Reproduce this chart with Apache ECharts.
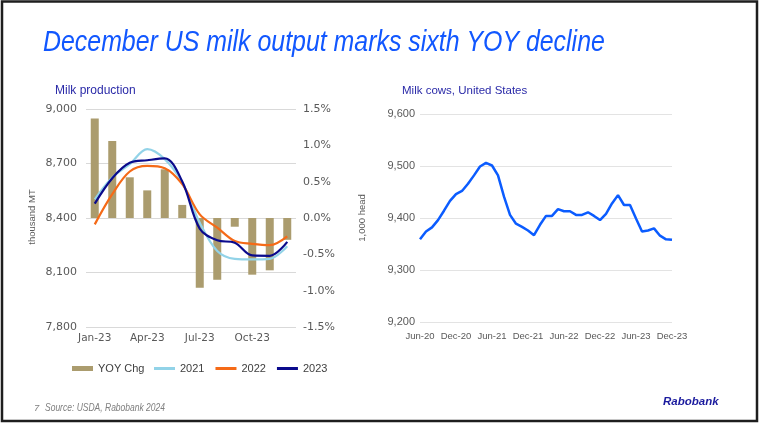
<!DOCTYPE html>
<html>
<head>
<meta charset="utf-8">
<script src="https://cdn.jsdelivr.net/npm/echarts@6/dist/echarts.min.js"></script>
<style>
html,body{margin:0;padding:0;background:#fff;}
#chart{width:761px;height:425px;}
</style>
</head>
<body>
<div id="chart"></div>
<script>
// ---- Data ----
const prodMonths = ['Jan-23','Feb-23','Mar-23','Apr-23','May-23','Jun-23','Jul-23','Aug-23','Sep-23','Oct-23','Nov-23','Dec-23'];
const yoyChg = [1.37, 1.06, 0.56, 0.38, 0.67, 0.18, -0.96, -0.85, -0.12, -0.78, -0.72, -0.30];
const prod2021 = [8503, 8623, 8696, 8779, 8724, 8595, 8374, 8218, 8175, 8172, 8175, 8245];
const prod2022 = [8365, 8531, 8656, 8687, 8674, 8586, 8420, 8347, 8273, 8258, 8251, 8299];
const prod2023 = [8479, 8619, 8704, 8718, 8728, 8601, 8341, 8277, 8264, 8194, 8192, 8269];

const cowMonths = ['Jun-20','Jul-20','Aug-20','Sep-20','Oct-20','Nov-20','Dec-20',
  'Jan-21','Feb-21','Mar-21','Apr-21','May-21','Jun-21','Jul-21','Aug-21','Sep-21','Oct-21','Nov-21','Dec-21',
  'Jan-22','Feb-22','Mar-22','Apr-22','May-22','Jun-22','Jul-22','Aug-22','Sep-22','Oct-22','Nov-22','Dec-22',
  'Jan-23','Feb-23','Mar-23','Apr-23','May-23','Jun-23','Jul-23','Aug-23','Sep-23','Oct-23','Nov-23','Dec-23'];
const milkCows = [9359, 9374, 9382, 9396, 9414, 9433, 9446, 9452, 9466, 9482, 9499, 9506, 9501, 9482, 9441, 9406, 9389, 9383, 9376, 9367, 9387, 9404, 9404, 9417, 9413, 9413, 9406, 9406, 9411, 9404, 9396, 9408, 9428, 9444, 9425, 9425, 9399, 9374, 9376, 9380, 9366, 9359, 9358];

const titleText = 'December US milk output marks sixth YOY decline';
const leftTitle = 'Milk production';
const rightTitle = 'Milk cows, United States';
const sourceText = 'Source: USDA, Rabobank 2024';

// ---- Chart ----
const chart = echarts.init(document.getElementById('chart'), null, {renderer: 'canvas'});
const gray = '#595959';
const leftFont = 'DejaVu Sans';
const arial = 'Liberation Sans, Arial, sans-serif';
const legendText = {fontFamily: arial, fontSize: 11, color: '#404040'};

const option = {
  backgroundColor: '#ffffff',
  animation: false,
  grid: [
    {left: 86, top: 109, width: 210, height: 218, containLabel: false},
    {left: 420, top: 114, width: 252, height: 208, containLabel: false}
  ],
  legend: [
    {
      left: 67, top: 358, itemWidth: 21, itemHeight: 5, itemGap: 11,
      textStyle: legendText,
      data: [{name: 'YOY Chg', icon: 'rect'}]
    },
    {
      left: 149, top: 358, itemWidth: 21, itemHeight: 3, itemGap: 11,
      textStyle: legendText,
      data: [{name: '2021', icon: 'rect'}, {name: '2022', icon: 'rect'}, {name: '2023', icon: 'rect'}]
    }
  ],
  xAxis: [
    {
      type: 'category', gridIndex: 0, data: prodMonths, boundaryGap: true,
      axisLine: {show: false}, axisTick: {show: false},
      axisLabel: {interval: 2, color: gray, fontFamily: leftFont, fontSize: 10.5, margin: 6}
    },
    {
      type: 'category', gridIndex: 1, data: cowMonths, boundaryGap: false,
      axisLine: {show: false}, axisTick: {show: false},
      axisLabel: {interval: 5, color: gray, fontFamily: arial, fontSize: 9.5, margin: 9, showMaxLabel: true}
    }
  ],
  yAxis: [
    {
      type: 'value', gridIndex: 0, min: 7800, max: 9000, interval: 300,
      axisLine: {show: false}, axisTick: {show: false},
      splitLine: {lineStyle: {color: '#d9d9d9', width: 1}},
      axisLabel: {color: gray, fontFamily: leftFont, fontSize: 11, margin: 9,
        formatter: v => v.toLocaleString('en-US')}
    },
    {
      type: 'value', gridIndex: 0, position: 'right', min: -1.5, max: 1.5, interval: 0.5,
      axisLine: {show: false}, axisTick: {show: false}, splitLine: {show: false},
      axisLabel: {color: gray, fontFamily: leftFont, fontSize: 11, margin: 7,
        formatter: v => (Math.abs(v) < 1e-9 ? 0 : v).toFixed(1) + '%'}
    },
    {
      type: 'value', gridIndex: 1, min: 9200, max: 9600, interval: 100,
      axisLine: {show: false}, axisTick: {show: false},
      splitLine: {lineStyle: {color: '#e3e3e3', width: 1}},
      axisLabel: {color: gray, fontFamily: arial, fontSize: 11, margin: 5,
        formatter: v => v.toLocaleString('en-US')}
    }
  ],
  series: [
    {
      name: 'YOY Chg', type: 'bar', xAxisIndex: 0, yAxisIndex: 1, data: yoyChg,
      barWidth: 8, itemStyle: {color: '#ab9c6e'}
    },
    {
      name: '2021', type: 'line', xAxisIndex: 0, yAxisIndex: 0, data: prod2021,
      smooth: 0.35, symbol: 'none', lineStyle: {color: '#92d3e8', width: 2.2}, itemStyle: {color: '#92d3e8'}
    },
    {
      name: '2022', type: 'line', xAxisIndex: 0, yAxisIndex: 0, data: prod2022,
      smooth: 0.35, symbol: 'none', lineStyle: {color: '#f56a17', width: 2.2}, itemStyle: {color: '#f56a17'}
    },
    {
      name: '2023', type: 'line', xAxisIndex: 0, yAxisIndex: 0, data: prod2023,
      smooth: 0.35, symbol: 'none', lineStyle: {color: '#0a0a8c', width: 2.2}, itemStyle: {color: '#0a0a8c'}
    },
    {
      name: 'Milk cows', type: 'line', xAxisIndex: 1, yAxisIndex: 2, data: milkCows,
      symbol: 'none', lineStyle: {color: '#0b5cff', width: 2.5}, itemStyle: {color: '#0b5cff'}
    }
  ],
  graphic: [
    {
      type: 'rect', silent: true,
      shape: {x: 2, y: 1.5, width: 755, height: 419.5},
      style: {fill: 'none', stroke: '#1e1e1e', lineWidth: 2.5}
    },
    {
      type: 'text', x: 43, y: 43, scaleX: 0.83, scaleY: 1,
      style: {text: titleText, fill: '#1157ff', font: 'italic 30px ' + arial, textAlign: 'left', textVerticalAlign: 'middle'}
    },
    {
      type: 'text', x: 55, y: 91,
      style: {text: leftTitle, fill: '#2a2aa8', font: '12px ' + arial, textAlign: 'left', textVerticalAlign: 'middle'}
    },
    {
      type: 'text', x: 402, y: 91,
      style: {text: rightTitle, fill: '#2a2aa8', font: '11.5px ' + arial, textAlign: 'left', textVerticalAlign: 'middle'}
    },
    {
      type: 'text', x: 32, y: 217, rotation: Math.PI / 2,
      style: {text: 'thousand MT', fill: gray, font: '9.5px ' + arial, textAlign: 'center', textVerticalAlign: 'middle'}
    },
    {
      type: 'text', x: 362, y: 218, rotation: Math.PI / 2,
      style: {text: '1,000 head', fill: gray, font: '9.5px ' + arial, textAlign: 'center', textVerticalAlign: 'middle'}
    },
    {
      type: 'text', x: 34, y: 408,
      style: {text: '7', fill: '#7f7f7f', font: 'italic 9.5px ' + arial, textAlign: 'left', textVerticalAlign: 'middle'}
    },
    {
      type: 'text', x: 45, y: 408, scaleX: 0.85,
      style: {text: sourceText, fill: '#7f7f7f', font: 'italic 10px ' + arial, textAlign: 'left', textVerticalAlign: 'middle'}
    },
    {
      type: 'text', x: 663, y: 402,
      style: {text: 'Rabobank', fill: '#1b1b9e', font: 'italic bold 11.5px ' + arial, textAlign: 'left', textVerticalAlign: 'middle'}
    }
  ]
};
chart.setOption(option);
</script>
</body>
</html>
